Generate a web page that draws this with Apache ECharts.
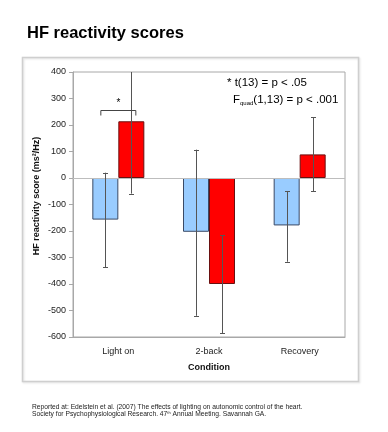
<!DOCTYPE html>
<html><head><meta charset="utf-8">
<script src="https://cdn.jsdelivr.net/npm/echarts@6/dist/echarts.min.js"></script>
<style>html,body{margin:0;padding:0;background:#fff}#c{width:388px;height:432px}</style>
</head><body><div id="c"></div>
<script>
const categories = ['Light on', '2-back', 'Recovery'];
const yTicks = [-600, -500, -400, -300, -200, -100, 0, 100, 200, 300, 400];
const blueMean = [-157, -203, -179];
const blueLow = [-337, -520, -316];
const blueHigh = [20, 107, -49];
const redMean = [214, -400, 89];
const redLow = [-59, -586, -50];
const redHigh = [487, -216, 230];
const sigBracket = [[0, 258]];

const FONT = '"Liberation Sans", Arial, sans-serif';
const BAR_W = 26;

function errItem(offset) {
  return function (params, api) {
    const cs = params.coordSys;
    const c = api.value(0);
    const lo = api.coord([c, api.value(1)]);
    const hi = api.coord([c, api.value(2)]);
    const x = Math.round(lo[0] + offset) + 0.5;
    const top = cs.y, bot = cs.y + cs.height;
    let y1 = hi[1], y2 = lo[1];
    const children = [];
    const clipTop = y1 < top, clipBot = y2 > bot;
    y1 = Math.max(y1, top); y2 = Math.min(y2, bot);
    const st = { stroke: '#555', lineWidth: 1 };
    children.push({ type: 'line', shape: { x1: x, y1: y1, x2: x, y2: y2 }, style: st });
    if (!clipTop) children.push({ type: 'line', shape: { x1: x - 2.5, y1: Math.round(y1) + 0.5, x2: x + 2.5, y2: Math.round(y1) + 0.5 }, style: st });
    if (!clipBot) children.push({ type: 'line', shape: { x1: x - 2.5, y1: Math.round(y2) + 0.5, x2: x + 2.5, y2: Math.round(y2) + 0.5 }, style: st });
    return { type: 'group', children: children };
  };
}

const chart = echarts.init(document.getElementById('c'), null, { renderer: 'canvas' });
chart.setOption({
  animation: false,
  backgroundColor: '#fff',
  textStyle: { fontFamily: FONT },
  grid: { left: 73, top: 72, right: 43, bottom: 95, show: true, borderColor: '#a8a8a8', borderWidth: 1, backgroundColor: 'transparent' },
  graphic: [
    { type: 'rect', shape: { x: 22.5, y: 57.5, width: 336, height: 324 }, style: { fill: 'none', stroke: '#cfcfcf', lineWidth: 1.5, shadowColor: 'rgba(0,0,0,0.12)', shadowBlur: 2, shadowOffsetX: 1, shadowOffsetY: 1 }, z: -10 },
    { type: 'text', left: 27, top: 25, style: { text: 'HF reactivity scores', font: 'bold 16.5px ' + FONT, fill: '#000' } },
    { type: 'text', x: 37, y: 196, rotation: Math.PI / 2, style: { text: 'HF reactivity score (ms²/Hz)', font: 'bold 9px ' + FONT, fill: '#111', align: 'center', verticalAlign: 'middle' } },
    { type: 'text', x: 227, y: 83, style: { text: '* t(13) = p < .05', font: '11.5px ' + FONT, fill: '#000', verticalAlign: 'middle' } },
    { type: 'text', x: 233, y: 99, style: {
      text: '{a|F}{s|quad}{a|(1,13) = p < .001}', verticalAlign: 'middle',
      rich: { a: { font: '11.5px ' + FONT, fill: '#000', verticalAlign: 'bottom', lineHeight: 14 }, s: { font: '6px ' + FONT, fill: '#000', verticalAlign: 'bottom', lineHeight: 10 } } } },
    { type: 'text', x: 32, y: 403.5, style: {
      text: 'Reported at: Edelstein et al. (2007) The effects of lighting on autonomic control of the heart.\n{n|Society for Psychophysiological Research. 47}{sup|th}{n| Annual Meeting. Savannah GA.}',
      font: '6.7px ' + FONT, fill: '#222', lineHeight: 7,
      rich: { n: { font: '6.7px ' + FONT, fill: '#222', lineHeight: 7 }, sup: { font: '4px ' + FONT, fill: '#222', verticalAlign: 'top', lineHeight: 7 } } } }
  ],
  xAxis: {
    type: 'category', data: categories,
    axisLine: { onZero: false, lineStyle: { color: '#a8a8a8' } },
    axisTick: { show: false },
    axisLabel: { fontSize: 9, color: '#222', margin: 10, fontFamily: FONT },
    name: 'Condition', nameLocation: 'middle', nameGap: 26,
    nameTextStyle: { fontSize: 9, fontWeight: 'bold', color: '#111', fontFamily: FONT }
  },
  yAxis: {
    type: 'value', min: yTicks[0], max: yTicks[yTicks.length - 1], interval: 100,
    axisLine: { show: true, lineStyle: { color: '#a8a8a8' } },
    axisTick: { show: true, length: 4, lineStyle: { color: '#a8a8a8' } },
    splitLine: { show: false },
    axisLabel: { fontSize: 9, color: '#222', margin: 7, fontFamily: FONT }
  },
  series: [
    { type: 'bar', data: blueMean, barWidth: BAR_W, barGap: '0%',
      itemStyle: { color: '#99CCFF', borderColor: '#3a4a66', borderWidth: 1 },
      markLine: { silent: true, symbol: 'none', label: { show: false }, lineStyle: { color: '#bdbdbd', width: 1, type: 'solid' }, data: [{ yAxis: 0 }] }, z: 2 },
    { type: 'bar', data: redMean, barWidth: BAR_W, barGap: '0%',
      itemStyle: { color: '#FF0000', borderColor: '#6a1010', borderWidth: 1 }, z: 2 },
    { type: 'custom', renderItem: errItem(-BAR_W / 2), data: categories.map((c, i) => [i, blueLow[i], blueHigh[i]]), z: 5, silent: true },
    { type: 'custom', renderItem: errItem(BAR_W / 2), data: categories.map((c, i) => [i, redLow[i], redHigh[i]]), z: 5, silent: true },
    { type: 'custom', silent: true, z: 6, data: sigBracket,
      renderItem: function (params, api) {
        const p = api.coord([api.value(0), api.value(1)]);
        const cx = p[0], y = Math.round(p[1]) + 0.5;
        const st = { stroke: '#444', lineWidth: 1, fill: 'none' };
        return { type: 'group', children: [
          { type: 'polyline', shape: { points: [[cx - 17.5, y + 5], [cx - 17.5, y], [cx + 17.5, y], [cx + 17.5, y + 5]] }, style: st },
          { type: 'text', style: { x: cx, y: y - 7, text: '*', font: '10px ' + FONT, fill: '#000', align: 'center', verticalAlign: 'middle' } }
        ] };
      } }
  ]
});
</script></body></html>
